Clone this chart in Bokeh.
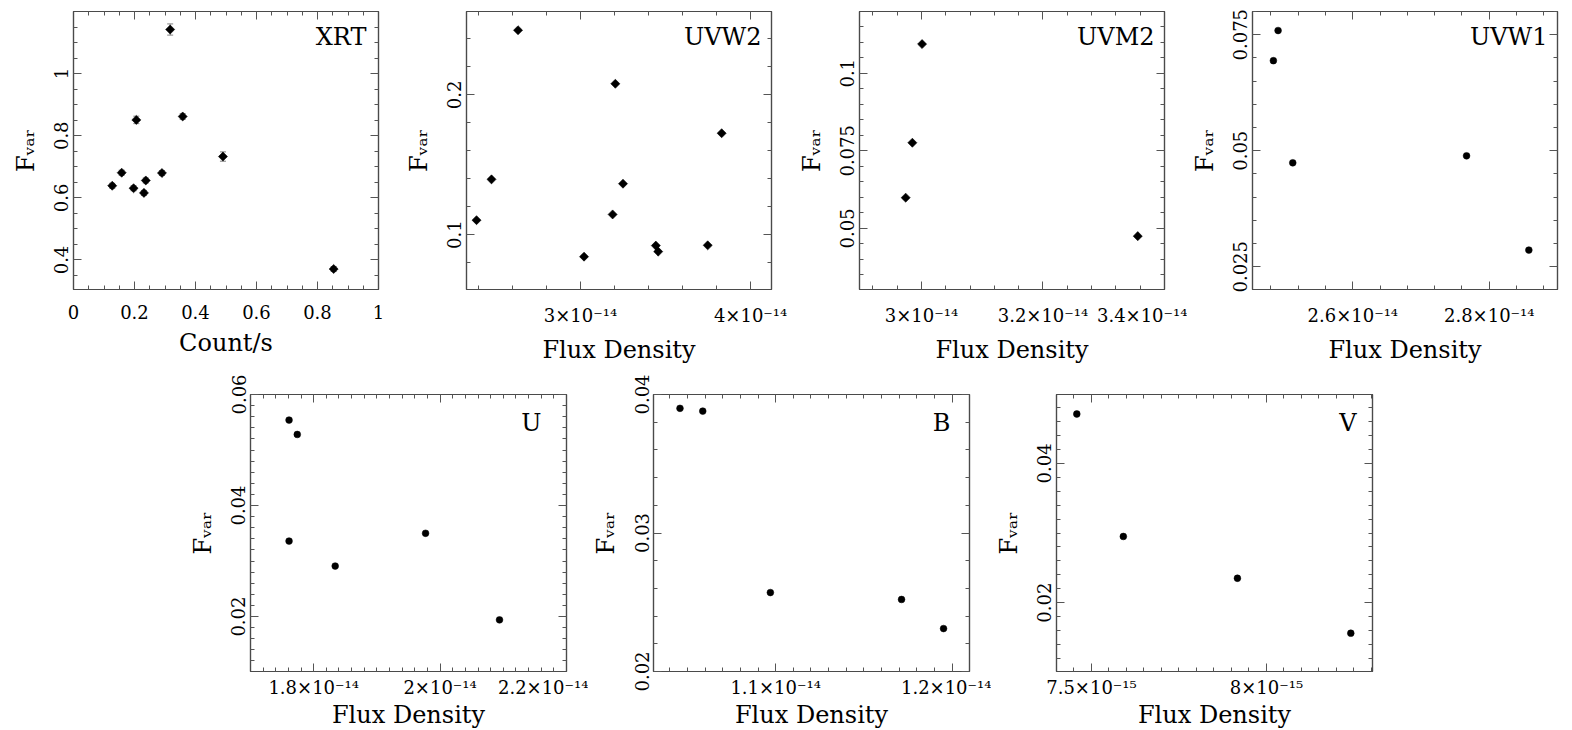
import numpy as np
from bokeh.plotting import figure
from bokeh.layouts import column, row, Spacer
from bokeh.models import FixedTicker, LinearAxis, Label, Whisker, ColumnDataSource, TeeHead, Range1d
from bokeh.embed import file_html
from bokeh.resources import INLINE

FONT = "DejaVu Serif"
FRAME = "#4a4a4a"
TICK = "#555555"

# ---------------- data ----------------
xrt_rate = [0.127, 0.158, 0.197, 0.206, 0.231, 0.237, 0.290, 0.317, 0.358, 0.490, 0.853]
xrt_fvar = [0.639, 0.681, 0.631, 0.851, 0.616, 0.656, 0.680, 1.142, 0.862, 0.733, 0.371]
xrt_err = [0.008, 0.008, 0.008, 0.012, 0.008, 0.008, 0.008, 0.018, 0.009, 0.015, 0.008]

uvw2_flux = [2.389e-14, 2.477e-14, 2.633e-14, 3.021e-14, 3.189e-14, 3.205e-14,
             3.250e-14, 3.443e-14, 3.457e-14, 3.748e-14, 3.830e-14]
uvw2_fvar = [0.1103, 0.1395, 0.2462, 0.0842, 0.1144, 0.2079, 0.1364, 0.0921, 0.0878, 0.0923, 0.1725]

uvm2_flux = [2.974e-14, 2.985e-14, 3.001e-14, 3.356e-14]
uvm2_fvar = [0.0599, 0.0776, 0.1094, 0.0475]

uvw1_flux = [2.4836e-14, 2.4905e-14, 2.512e-14, 2.7667e-14, 2.858e-14]
uvw1_fvar = [0.0694, 0.0759, 0.0474, 0.0489, 0.0286]

u_flux = [1.761e-14, 1.774e-14, 1.761e-14, 1.834e-14, 1.977e-14, 2.094e-14]
u_fvar = [0.0554, 0.0528, 0.0336, 0.0291, 0.0350, 0.0194]

b_flux = [1.0458e-14, 1.0587e-14, 1.097e-14, 1.1713e-14, 1.1951e-14]
b_fvar = [0.0390, 0.0388, 0.0257, 0.0252, 0.0231]

v_flux = [7.458e-15, 7.591e-15, 7.917e-15, 8.241e-15]
v_fvar = [0.0471, 0.0295, 0.0235, 0.0156]

# ---------------- ticks ----------------
xrt_xticks = [0.0, 0.2, 0.4, 0.6, 0.8, 1.0]
xrt_xlabels = ["0", "0.2", "0.4", "0.6", "0.8", "1"]
xrt_yticks = [0.4, 0.6, 0.8, 1.0]
xrt_ylabels = ["0.4", "0.6", "0.8", "1"]

uvw2_xticks = [3e-14, 4e-14]
uvw2_xlabels = ["3×10⁻¹⁴", "4×10⁻¹⁴"]
uvw2_yticks = [0.1, 0.2]
uvw2_ylabels = ["0.1", "0.2"]

uvm2_xticks = [3e-14, 3.2e-14, 3.4e-14]
uvm2_xlabels = ["3×10⁻¹⁴", "3.2×10⁻¹⁴", "3.4×10⁻¹⁴"]
uvm2_yticks = [0.05, 0.075, 0.1]
uvm2_ylabels = ["0.05", "0.075", "0.1"]

uvw1_xticks = [2.6e-14, 2.8e-14]
uvw1_xlabels = ["2.6×10⁻¹⁴", "2.8×10⁻¹⁴"]
uvw1_yticks = [0.025, 0.05, 0.075]
uvw1_ylabels = ["0.025", "0.05", "0.075"]

u_xticks = [1.8e-14, 2e-14, 2.2e-14]
u_xlabels = ["1.8×10⁻¹⁴", "2×10⁻¹⁴", "2.2×10⁻¹⁴"]
u_yticks = [0.02, 0.04, 0.06]
u_ylabels = ["0.02", "0.04", "0.06"]

b_xticks = [1.1e-14, 1.2e-14]
b_xlabels = ["1.1×10⁻¹⁴", "1.2×10⁻¹⁴"]
b_yticks = [0.02, 0.03, 0.04]
b_ylabels = ["0.02", "0.03", "0.04"]

v_xticks = [7.5e-15, 8e-15]
v_xlabels = ["7.5×10⁻¹⁵", "8×10⁻¹⁵"]
v_yticks = [0.02, 0.04]
v_ylabels = ["0.02", "0.04"]


def minor(lo, hi, step):
    n0 = int(np.ceil(lo / step - 1e-6))
    n1 = int(np.floor(hi / step + 1e-6))
    return [k * step for k in range(n0, n1 + 1)]


def style_axis(ax, ticks, minors, labels, show):
    ax.ticker = FixedTicker(ticks=ticks, minor_ticks=minors)
    ax.major_tick_in = 8
    ax.major_tick_out = 0
    ax.minor_tick_in = 4
    ax.minor_tick_out = 0
    ax.axis_line_color = FRAME
    ax.axis_line_width = 1.2
    ax.major_tick_line_color = TICK
    ax.minor_tick_line_color = TICK
    ax.major_tick_line_width = 1
    ax.minor_tick_line_width = 1
    if show:
        ax.major_label_overrides = {t: l for t, l in zip(ticks, labels)}
        ax.major_label_text_font = FONT
        ax.major_label_text_font_size = "18px"
        ax.major_label_text_color = "black"
    else:
        ax.major_label_overrides = {t: "" for t in ticks}
        ax.major_label_text_font_size = "0px"
        ax.major_label_standoff = 0


def panel(xs, ys, xr, yr, xt, xl, xstep, yt, yl, ystep, name, marker, xlabel,
          fw, fh, left, right, top, bottom, inset, mid_off, xstand, xlstand, err=None):
    p = figure(frame_width=fw, frame_height=fh,
               x_range=Range1d(*xr), y_range=Range1d(*yr),
               output_backend="svg", toolbar_location=None,
               min_border_left=left, min_border_right=right,
               min_border_top=top, min_border_bottom=bottom,
               background_fill_color="white", border_fill_color="white")
    p.grid.visible = False
    p.outline_line_color = FRAME
    p.outline_line_width = 1.2

    xmin = minor(xr[0], xr[1], xstep)
    ymin = minor(yr[0], yr[1], ystep)

    style_axis(p.xaxis[0], xt, xmin, xl, True)
    style_axis(p.yaxis[0], yt, ymin, yl, True)
    p.yaxis.major_label_orientation = "vertical"
    p.xaxis.major_label_standoff = xstand
    p.yaxis.major_label_standoff = 5

    p.xaxis.axis_label = xlabel
    p.yaxis.axis_label = "Fᵥₐᵣ"
    for ax in (p.xaxis[0], p.yaxis[0]):
        ax.axis_label_text_font = FONT
        ax.axis_label_text_font_size = "24px"
        ax.axis_label_text_font_style = "normal"
        ax.axis_label_text_color = "black"
    p.xaxis.axis_label_standoff = xlstand
    p.yaxis.axis_label_standoff = 12

    ax_top = LinearAxis()
    style_axis(ax_top, xt, xmin, xl, False)
    p.add_layout(ax_top, "above")
    ax_right = LinearAxis()
    style_axis(ax_right, yt, ymin, yl, False)
    p.add_layout(ax_right, "right")

    if err is not None:
        src = ColumnDataSource(dict(base=xs,
                                    lower=[y - e for y, e in zip(ys, err)],
                                    upper=[y + e for y, e in zip(ys, err)]))
        w = Whisker(base="base", lower="lower", upper="upper", source=src,
                    line_color="#808080", line_width=1,
                    upper_head=TeeHead(size=6, line_color="#808080", line_width=1),
                    lower_head=TeeHead(size=6, line_color="#808080", line_width=1),
                    level="underlay")
        p.add_layout(w)

    if marker == "diamond":
        p.scatter(xs, ys, marker="square", angle=np.pi / 4, size=6.4,
                  fill_color="black", line_color="black", line_width=0.6)
    else:
        p.scatter(xs, ys, marker="circle", size=6.8,
                  fill_color="black", line_color="black", line_width=0.5)

    p.add_layout(Label(x=xr[1], y=yr[1], x_offset=-inset, y_offset=-mid_off,
                       text=name, text_align="right", text_baseline="middle",
                       text_font=FONT, text_font_size="24px", text_color="black"))
    return p


TFW, TFH = 305, 278
BFW, BFH = 316, 277

# top row: (left, right, top, bottom, label inset, label offset, tick standoff, axis-label standoff)
p1 = panel(xrt_rate, xrt_fvar, (0.0, 1.0), (0.305, 1.2), xrt_xticks, xrt_xlabels, 0.05,
           xrt_yticks, xrt_ylabels, 0.05, "XRT", "diamond", "Count/s",
           TFW, TFH, 65, 23, 4, 74, 12, 25, 15, 7, err=xrt_err)
p2 = panel(uvw2_flux, uvw2_fvar, (2.33e-14, 4.123e-14), (0.0607, 0.2596), uvw2_xticks, uvw2_xlabels, 0.2e-14,
           uvw2_yticks, uvw2_ylabels, 0.02, "UVW2", "diamond", "Flux Density",
           TFW, TFH, 65, 23, 4, 74, 10, 25, 15, 7)
p3 = panel(uvm2_flux, uvm2_fvar, (2.898e-14, 3.4e-14), (0.0303, 0.1199), uvm2_xticks, uvm2_xlabels, 0.04e-14,
           uvm2_yticks, uvm2_ylabels, 0.005, "UVM2", "diamond", "Flux Density",
           TFW, TFH, 65, 23, 4, 74, 10, 25, 15, 7)
p4 = panel(uvw1_flux, uvw1_fvar, (2.453e-14, 2.900e-14), (0.0201, 0.080), uvw1_xticks, uvw1_xlabels, 0.04e-14,
           uvw1_yticks, uvw1_ylabels, 0.005, "UVW1", "circle", "Flux Density",
           TFW, TFH, 65, 6, 4, 74, 10, 25, 15, 7)

p5 = panel(u_flux, u_fvar, (1.70e-14, 2.20e-14), (0.0101, 0.06), u_xticks, u_xlabels, 0.02e-14,
           u_yticks, u_ylabels, 0.002, "U", "circle", "Flux Density",
           BFW, BFH, 65, 22, 28, 56, 25, 28, 5, 0)
p6 = panel(b_flux, b_fvar, (1.0308e-14, 1.2098e-14), (0.02, 0.04), b_xticks, b_xlabels, 0.01e-14,
           b_yticks, b_ylabels, 0.002, "B", "circle", "Flux Density",
           BFW, BFH, 65, 22, 28, 56, 19, 28, 5, 0)
p7 = panel(v_flux, v_fvar, (7.40e-15, 8.303e-15), (0.0101, 0.0499), v_xticks, v_xlabels, 0.05e-15,
           v_yticks, v_ylabels, 0.002, "V", "circle", "Flux Density",
           BFW, BFH, 65, 22, 28, 56, 16, 28, 5, 0)

layout = column(Spacer(width=10, height=7),
                row(Spacer(width=8, height=10), p1, p2, p3, p4),
                row(Spacer(width=185, height=10), p5, p6, p7))

open("out.html", "w").write(file_html(layout, INLINE, "Fvar"))
